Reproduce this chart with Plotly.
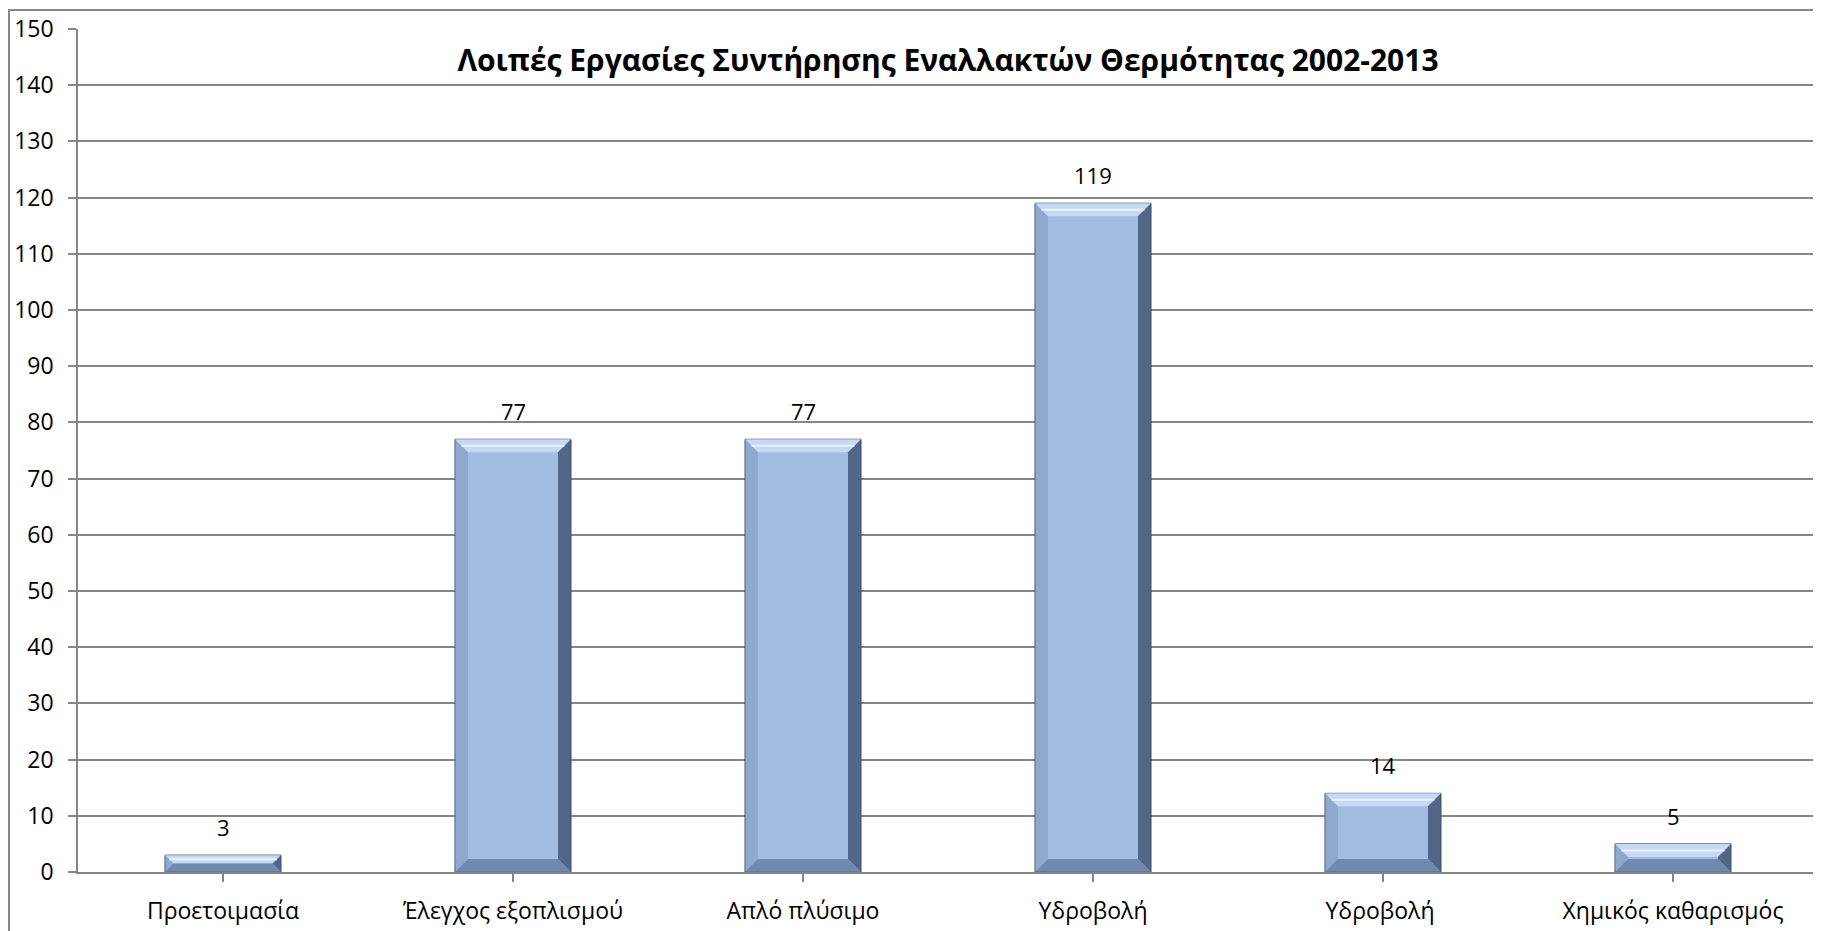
import plotly.graph_objects as go

categories = ["Προετοιμασία", "Έλεγχος εξοπλισμού", "Απλό πλύσιμο", "Υδροβολή", "Υδροβολή ", "Χημικός καθαρισμός"]
values = [3, 77, 77, 119, 14, 5]
title_text = "Λοιπές Εργασίες Συντήρησης Εναλλακτών Θερμότητας 2002-2013"
y_ticks = list(range(0, 151, 10))

OFF = 8  # page body margin
W, H = 1821 - OFF, 931 - OFF
ML, MR, MT, MB = 78 - OFF, 3, 29 - OFF, 59
YMAX = 150
BAR_W = 0.4
FONT = "Open Sans"

plot_w = W - ML - MR
plot_h = H - MT - MB
px_x = plot_w / len(categories)   # px per category unit
px_y = plot_h / YMAX              # px per value unit

fig = go.Figure()

# base bars
fig.add_trace(go.Bar(
    x=list(range(len(categories))), y=values, width=BAR_W,
    marker=dict(color="#A2BCE2", line=dict(color="#3C4E68", width=1)),
    hoverinfo="skip", showlegend=False,
))

# bevel overlay polygons computed from values
bev_px = 13
for i, v in enumerate(values):
    xl, xr = i - BAR_W / 2, i + BAR_W / 2
    bpx = min(bev_px, v * px_y / 2)
    dx = bpx / px_x
    dy = bpx / px_y
    polys = [
        # top bevel
        ([xl, xr, xr - dx, xl + dx, xl], [v, v, v - dy, v - dy, v], "rgba(200,218,243,0.95)"),
        # left bevel
        ([xl, xl + dx, xl + dx, xl, xl], [v, v - dy, dy, 0, v], "rgba(120,145,180,0.45)"),
        # right bevel
        ([xr, xr - dx, xr - dx, xr, xr], [v, v - dy, dy, 0, v], "rgba(55,75,105,0.75)"),
        # bottom bevel
        ([xl, xl + dx, xr - dx, xr, xl], [0, dy, dy, 0, 0], "rgba(95,120,160,0.75)"),
    ]
    for px_, py_, col in polys:
        fig.add_trace(go.Scatter(
            x=px_, y=py_, mode="lines", fill="toself", fillcolor=col,
            line=dict(width=0), hoverinfo="skip", showlegend=False,
        ))
    # highlight line in top bevel
    fig.add_trace(go.Scatter(
        x=[xl + dx * 0.5, xr - dx * 0.5], y=[v - dy * 0.5, v - dy * 0.5],
        mode="lines", line=dict(color="rgba(235,244,255,0.9)", width=2),
        hoverinfo="skip", showlegend=False,
    ))

annotations = [dict(x=i, y=v, xref="x", yref="y", text=str(v), showarrow=False,
                    yanchor="middle", yshift=28,
                    font=dict(family=FONT, size=22, color="#000000"))
               for i, v in enumerate(values)]

fig.update_layout(
    width=W, height=H,
    margin=dict(l=ML, r=MR, t=MT, b=MB, autoexpand=False),
    paper_bgcolor="white", plot_bgcolor="white",
    title=dict(text="<b>" + title_text + "</b>", x=(ML + plot_w / 2) / W, xanchor="center",
               y=1 - (60 - OFF) / H, yanchor="middle",
               font=dict(family=FONT, size=30, color="#000000")),
    font=dict(family=FONT, color="#000000"),
    annotations=annotations,
    xaxis=dict(
        range=[-0.5, len(categories) - 0.5],
        tickmode="array", tickvals=list(range(len(categories))), ticktext=categories,
        tickson="boundaries", ticks="outside", ticklen=8, tickcolor="#868686", tickwidth=1.5,
        showline=True, linecolor="#868686", linewidth=1.5,
        showgrid=False, zeroline=False, automargin=False,
        ticklabelstandoff=10,
        tickfont=dict(family=FONT, size=23, color="#000000"),
    ),
    yaxis=dict(
        range=[0, YMAX], tickvals=y_ticks,
        ticks="outside", ticklen=8, tickcolor="#868686", tickwidth=1.5,
        showline=True, linecolor="#868686", linewidth=1.5,
        showgrid=True, gridcolor="#868686", gridwidth=1.5,
        zeroline=False, automargin=False,
        ticklabelstandoff=10,
        tickfont=dict(family=FONT, size=23, color="#000000"),
    ),
    shapes=[dict(type="rect", xref="paper", yref="paper",
                 x0=-(ML - 1) / plot_w, x1=1 + (MR + 10) / plot_w,
                 y0=-(MB + 10) / plot_h, y1=1 + (MT - 2) / plot_h,
                 line=dict(color="#868686", width=2), fillcolor="rgba(0,0,0,0)", layer="below")],
)

fig.write_html("out.html")
